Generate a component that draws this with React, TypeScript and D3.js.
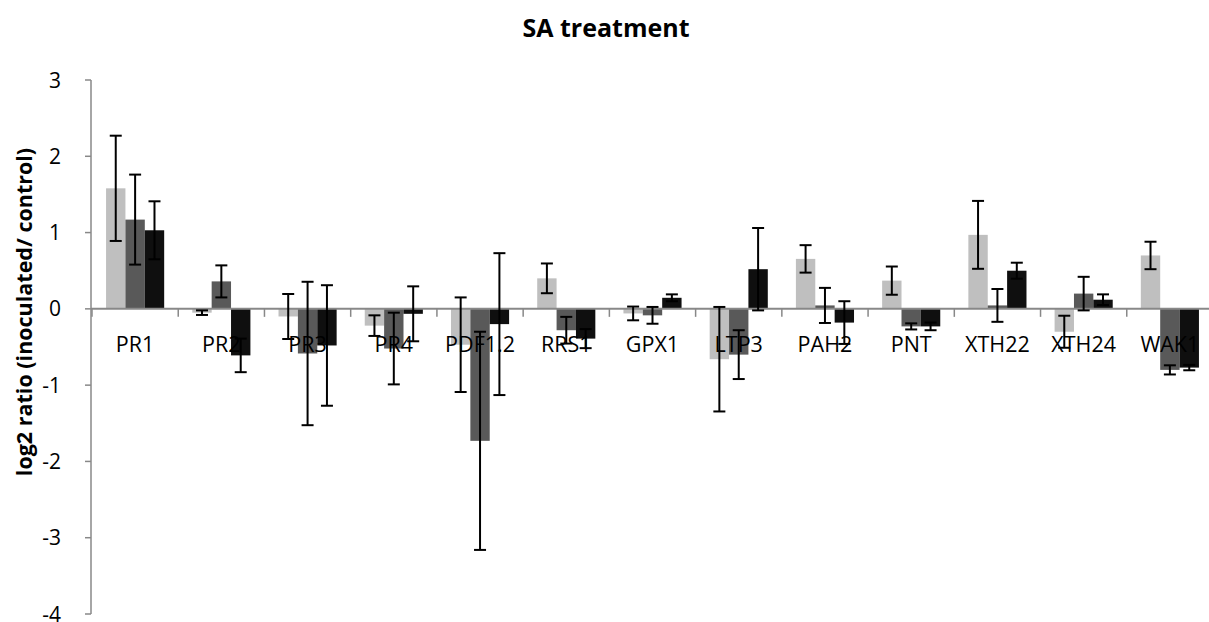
import * as d3 from "d3";

// Gene-expression log2 ratios, three treatments per gene, with error bars.
const genes = ["PR1", "PR2", "PR3", "PR4", "PDF1.2", "RRS1", "GPX1", "LTP3", "PAH2", "PNT", "XTH22", "XTH24", "WAK1"];
const lightVals = [1.58, -0.05, -0.1, -0.22, -0.47, 0.4, -0.06, -0.66, 0.655, 0.37, 0.97, -0.3, 0.7];
const lightErr = [0.69, 0.03, 0.295, 0.135, 0.62, 0.195, 0.09, 0.685, 0.18, 0.185, 0.445, 0.21, 0.18];
const midVals = [1.17, 0.36, -0.585, -0.52, -1.73, -0.28, -0.085, -0.6, 0.045, -0.23, 0.045, 0.2, -0.8];
const midErr = [0.59, 0.21, 0.94, 0.47, 1.43, 0.175, 0.11, 0.32, 0.23, 0.04, 0.215, 0.22, 0.06];
const darkVals = [1.03, -0.61, -0.48, -0.065, -0.2, -0.39, 0.145, 0.52, -0.18, -0.23, 0.5, 0.12, -0.77];
const darkErr = [0.38, 0.22, 0.79, 0.36, 0.93, 0.125, 0.045, 0.54, 0.28, 0.05, 0.105, 0.07, 0.035];
const yTicks = [-4, -3, -2, -1, 0, 1, 2, 3];

const series = [
  { vals: lightVals, err: lightErr, color: "#bfbfbf" },
  { vals: midVals, err: midErr, color: "#595959" },
  { vals: darkVals, err: darkErr, color: "#0f0f0f" },
];

const W = 1209, H = 622;
const FONT = "'Open Sans', 'DejaVu Sans', sans-serif";
const AXIS = "#888888";

export default function App() {
  const x = d3.scaleBand<string>().domain(genes).range([92, 1213]);
  const bw = x.bandwidth();
  const inner = d3.scaleBand<number>().domain([0, 1, 2]).range([bw * 0.163, bw * 0.837]);
  const y = d3.scaleLinear().domain([-4, 3]).range([614, 80]);
  const y0 = y(0);

  return (
    <div style={{ position: "absolute", left: 0, top: 0 }}>
      <svg width={W} height={H} style={{ display: "block", background: "#fff" }} fontFamily={FONT}>
        <text x={606} y={37} textAnchor="middle" fontSize="25" fontWeight="bold" fill="#000">SA treatment</text>
        <text transform={`translate(32, 312) rotate(-90)`} textAnchor="middle" fontSize="21.5" fontWeight="bold" fill="#000">
          log2 ratio (inoculated/ control)
        </text>

        {/* bars */}
        {series.map((s, si) =>
          s.vals.map((v, i) => (
            <rect key={`b${si}-${i}`} x={x(genes[i])! + inner(si)!} width={inner.bandwidth()}
              y={Math.min(y(v), y0)} height={Math.abs(y(v) - y0)} fill={s.color} />
          ))
        )}

        {/* y axis */}
        <line x1={91} x2={91} y1={y(3)} y2={y(-4)} stroke={AXIS} strokeWidth={1.5} />
        {yTicks.map((t) => (
          <g key={`y${t}`}>
            <line x1={85} x2={91} y1={y(t)} y2={y(t)} stroke={AXIS} strokeWidth={1.5} />
            <text x={61} y={y(t)} dy="0.36em" textAnchor="end" fontSize="21" fill="#000">{String(t)}</text>
          </g>
        ))}

        {/* x axis at zero */}
        <line x1={91} x2={W} y1={y0} y2={y0} stroke={AXIS} strokeWidth={2} />
        {genes.map((g) => (
          <line key={`t${g}`} x1={x(g)!} x2={x(g)!} y1={y0} y2={y0 + 8} stroke={AXIS} strokeWidth={1.5} />
        ))}

        {/* category labels */}
        {genes.map((g) => (
          <text key={`l${g}`} x={x(g)! + bw / 2} y={352} textAnchor="middle" fontSize="21.5" fill="#000">{g}</text>
        ))}

        {/* error bars */}
        {series.map((s, si) =>
          s.vals.map((v, i) => {
            const cx = x(genes[i])! + inner(si)! + inner.bandwidth() / 2;
            const hi = y(v + s.err[i]), lo = y(v - s.err[i]);
            return (
              <g key={`e${si}-${i}`} stroke="#000" strokeWidth={2}>
                <line x1={cx} x2={cx} y1={hi} y2={lo} />
                <line x1={cx - 6} x2={cx + 6} y1={hi} y2={hi} />
                <line x1={cx - 6} x2={cx + 6} y1={lo} y2={lo} />
              </g>
            );
          })
        )}
      </svg>
    </div>
  );
}
